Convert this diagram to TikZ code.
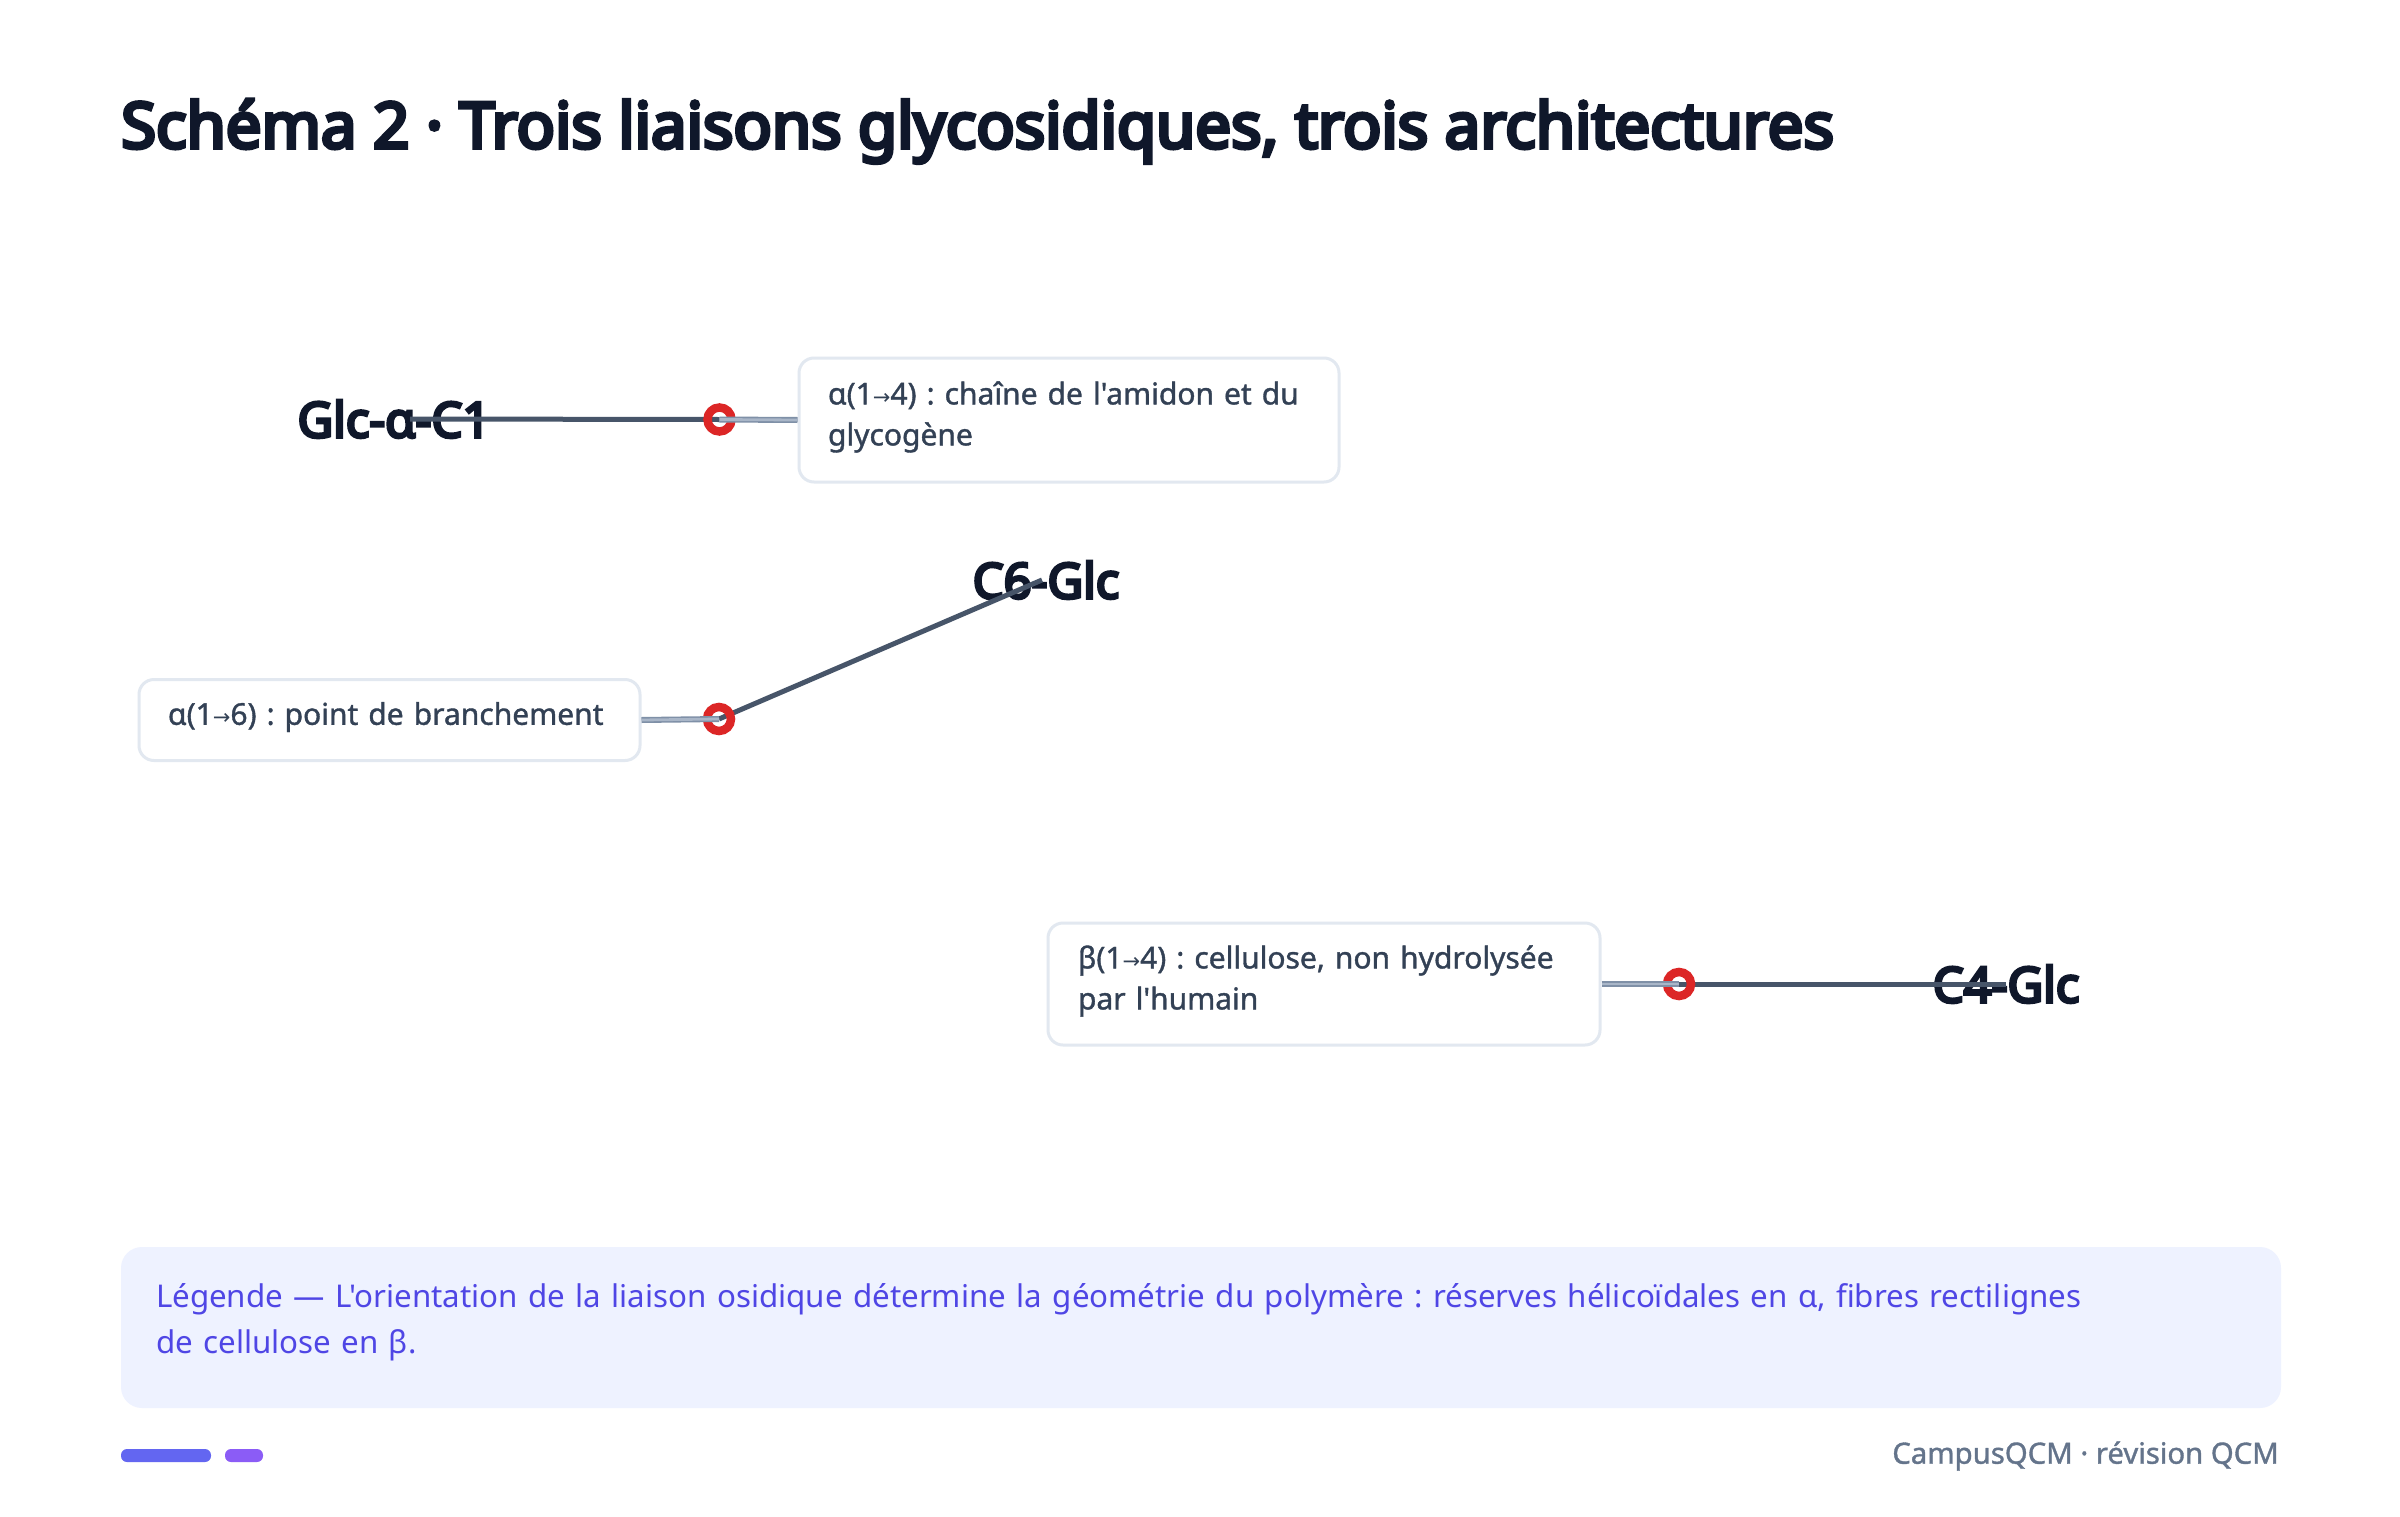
\documentclass[tikz,border=0pt]{standalone}
\usepackage{fontspec}
\setmainfont{Noto Sans}[Ligatures=TeXOff]
\newfontfamily\medfont[FakeBold=1.2,Ligatures=TeXOff]{Noto Sans}
\newfontfamily\heavyfont[FakeBold=6,Ligatures=TeXOff]{Noto Sans}
\newfontfamily\arrowfont{DejaVu Sans}
\definecolor{ink}{HTML}{0F172A}
\definecolor{bond}{HTML}{475569}
\definecolor{ringred}{HTML}{DC2626}
\definecolor{lead}{HTML}{7F90A7}
\definecolor{leadin}{HTML}{A9B6C8}
\definecolor{boxline}{HTML}{E2E8F0}
\definecolor{boxtext}{HTML}{334155}
\definecolor{legfill}{HTML}{EEF2FF}
\definecolor{legtext}{HTML}{4F46E5}
\definecolor{foottext}{HTML}{64748B}
\definecolor{pillA}{HTML}{6366F1}
\definecolor{pillB}{HTML}{8B5CF6}
\newcommand{\arr}{{\arrowfont\fontsize{21}{21}\selectfont →}}
\tikzset{
  sugar/.style={font=\heavyfont\fontsize{49}{52}\selectfont, text=ink, inner sep=0pt},
  infobox/.style={draw=boxline, line width=3pt, fill=white, rounded corners=15pt,
    align=left, text=boxtext, font=\medfont\fontsize{30}{41}\selectfont\frenchspacing, inner ysep=0pt},
  ring/.style={circle, draw=ringred, line width=8.5pt, minimum size=24pt, inner sep=0pt},
  bondline/.style={draw=bond, line width=5pt},
  leadline/.style={draw=lead, line width=6pt},
  leadinner/.style={draw=leadin, line width=2.8pt},
}
\begin{document}
\begin{tikzpicture}[x=1pt,y=-1pt]
\useasboundingbox (0,0) rectangle (2400,1517);
\fill[white] (0,0) rectangle (2400,1517);

% title
\node[anchor=base west, inner sep=0pt, text=ink, font=\heavyfont\fontsize{63.5}{66}\selectfont] (title) at (121,148)
  {Schéma 2 · Trois liaisons glycosidiques, trois architectures};

% boxes
\node[infobox, text width=482pt, inner xsep=29pt, minimum height=124pt] (b1) at (1069,420)
  {α(1\arr4) : chaîne de l'amidon et du\\glycogène\par\vspace{6pt}};
\node[infobox, text width=443pt, inner xsep=29pt, minimum height=81pt] (b2) at (389.5,720)
  {α(1\arr6) : point de branchement\par\vspace{6pt}};
\node[infobox, text width=492pt, inner xsep=30pt, minimum height=122pt] (b3) at (1324,984)
  {β(1\arr4) : cellulose, non hydrolysée\\par l'humain\par\vspace{6pt}};

% ring positions
\coordinate (c1) at (719.5,419.5);
\coordinate (c2) at (719,719);
\coordinate (c3) at (1679,984);

% sugar labels
\node[sugar] (g1) at (394,419) {Glc-α-C1};
\node[sugar] (g2) at (1046,580) {C6-Glc};
\node[sugar] (g3) at (2006,984) {C4-Glc};

% bonds
\draw[bondline] ([xshift=16pt]g1.center) -- (c1);
\draw[bondline] (c2) -- ([xshift=-4pt]g2.center);
\draw[bondline] (c3) -- (g3.center);

% rings
\node[ring] (r1) at (c1) {};
\node[ring] (r2) at (c2) {};
\node[ring] (r3) at (c3) {};

% leader lines (drawn over the rings)
\draw[leadline] (b1.west) -- (r1.center);
\draw[leadinner] (b1.west) -- (r1.center);
\draw[leadline] (b2.east) -- (r2.center);
\draw[leadinner] (b2.east) -- (r2.center);
\draw[leadline] (b3.east) -- (r3.center);
\draw[leadinner] (b3.east) -- (r3.center);

% legend
\node[fill=legfill, rounded corners=21pt, minimum width=2160pt, minimum height=161pt, inner sep=0pt] (leg) at (1201,1327.5) {};
\node[text width=2090pt, align=left, inner sep=0pt, text=legtext, font=\fontsize{31.3}{46}\selectfont\frenchspacing] (legt) at ([yshift=5pt]leg.center)
  {Légende — L'orientation de la liaison osidique détermine la géométrie du polymère : réserves hélicoïdales en α, fibres rectilignes\\de cellulose en β.};

% footer
\fill[pillA, rounded corners=6pt] (121,1449) rectangle (211,1462);
\fill[pillB, rounded corners=6pt] (225,1449) rectangle (263,1462);
\node[anchor=east, inner sep=0pt, text=foottext, font=\medfont\fontsize{29.3}{32}\selectfont] (foot) at (2279,1456) {CampusQCM · révision QCM};
\end{tikzpicture}
\end{document}
